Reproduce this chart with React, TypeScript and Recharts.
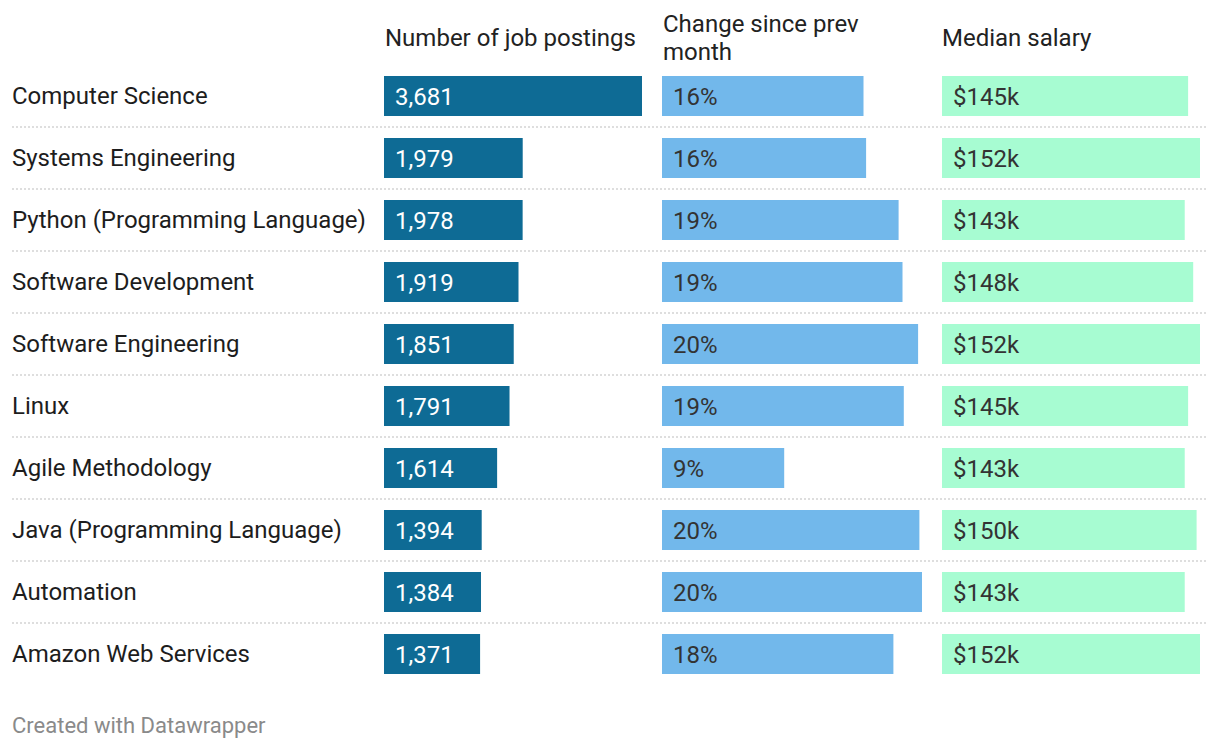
import React from 'react';
import { BarChart, Bar, XAxis, YAxis, LabelList } from 'recharts';

const skills = [
  'Computer Science',
  'Systems Engineering',
  'Python (Programming Language)',
  'Software Development',
  'Software Engineering',
  'Linux',
  'Agile Methodology',
  'Java (Programming Language)',
  'Automation',
  'Amazon Web Services',
];
const postings = [3681, 1979, 1978, 1919, 1851, 1791, 1614, 1394, 1384, 1371];
const change = [15.5, 15.7, 18.2, 18.5, 19.7, 18.6, 9.4, 19.8, 20.0, 17.8];
const changeLabels = ['16%', '16%', '19%', '19%', '20%', '19%', '9%', '20%', '20%', '18%'];
const salary = [145, 152, 143, 148, 152, 145, 143, 150, 143, 152];

const data = skills.map((name, i) => ({
  name,
  postings: postings[i],
  change: change[i],
  changeLabel: changeLabels[i],
  salary: salary[i],
}));

const FONT = 'Roboto, "Noto Sans", sans-serif';
const TOP = 65;
const BOTTOM = 65;
const ROW = 62;
const H = 750;
const FS = 24;

const RowTick = (props: any) => {
  const { y, payload, index } = props;
  return (
    <g>
      <text x={12} y={y} dominantBaseline="central" fontSize={FS} fontFamily={FONT} fill="#1d1d1d">
        {payload.value}
      </text>
      {index < skills.length - 1 && (
        <line x1={12} x2={1208} y1={y + ROW / 2} y2={y + ROW / 2} stroke="#d4d4d4" strokeWidth={1.5} strokeDasharray="2 2" />
      )}
    </g>
  );
};

const header: React.CSSProperties = {
  position: 'absolute',
  fontFamily: FONT,
  fontSize: FS,
  lineHeight: '28px',
  color: '#222',
  whiteSpace: 'nowrap',
};

export default function App() {
  return (
    <div style={{ position: 'absolute', left: 0, top: 0, width: 1220, height: H, background: '#fff' }}>
      <div style={{ ...header, left: 385, top: 24 }}>Number of job postings</div>
      <div style={{ ...header, left: 663, top: 10 }}>
        Change since prev
        <br />
        month
      </div>
      <div style={{ ...header, left: 942, top: 24 }}>Median salary</div>

      <div style={{ position: 'absolute', left: 0, top: 0 }}>
        <BarChart width={1220} height={H} data={data} layout="vertical" margin={{ top: TOP, right: 578, bottom: BOTTOM, left: 0 }}>
          <XAxis type="number" hide domain={[0, 3681]} />
          <YAxis type="category" dataKey="name" width={384} axisLine={false} tickLine={false} tick={<RowTick />} interval={0} />
          <Bar dataKey="postings" fill="#0e6b95" barSize={40} isAnimationActive={false}>
            <LabelList
              dataKey="postings"
              position="insideLeft"
              offset={11}
              fill="#ffffff"
              fontSize={FS}
              fontFamily={FONT}
              formatter={(v: any) => Number(v).toLocaleString('en-US')}
            />
          </Bar>
        </BarChart>
      </div>

      <div style={{ position: 'absolute', left: 662, top: 0 }}>
        <BarChart width={260} height={H} data={data} layout="vertical" margin={{ top: TOP, right: 0, bottom: BOTTOM, left: 0 }}>
          <XAxis type="number" hide domain={[0, 20]} />
          <YAxis type="category" dataKey="name" hide />
          <Bar dataKey="change" fill="#72b8eb" barSize={40} isAnimationActive={false}>
            <LabelList dataKey="changeLabel" position="insideLeft" offset={11} fill="#333" fontSize={FS} fontFamily={FONT} />
          </Bar>
        </BarChart>
      </div>

      <div style={{ position: 'absolute', left: 942, top: 0 }}>
        <BarChart width={258} height={H} data={data} layout="vertical" margin={{ top: TOP, right: 0, bottom: BOTTOM, left: 0 }}>
          <XAxis type="number" hide domain={[0, 152]} />
          <YAxis type="category" dataKey="name" hide />
          <Bar dataKey="salary" fill="#a7fcd2" barSize={40} isAnimationActive={false}>
            <LabelList
              dataKey="salary"
              position="insideLeft"
              offset={11}
              fill="#333"
              fontSize={FS}
              fontFamily={FONT}
              formatter={(v: any) => `$${v}k`}
            />
          </Bar>
        </BarChart>
      </div>

      <div style={{ position: 'absolute', left: 12, top: 712, fontFamily: FONT, fontSize: 22, lineHeight: '28px', color: '#8a8a8a', whiteSpace: 'nowrap' }}>
        Created with Datawrapper
      </div>
    </div>
  );
}
